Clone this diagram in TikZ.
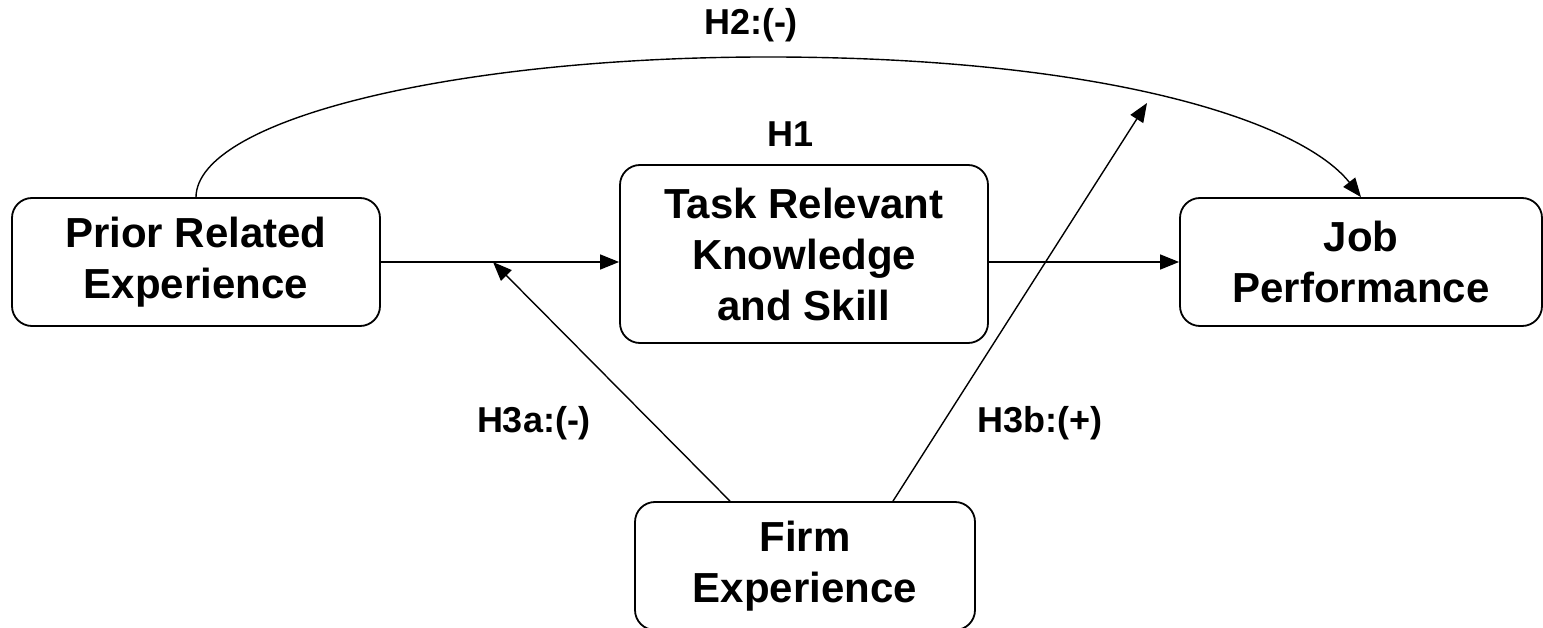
\documentclass[tikz,border=0pt]{standalone}
\usepackage{fontspec}
\setmainfont{Liberation Sans}
\usetikzlibrary{calc}
\usetikzlibrary{arrows.meta}
\tikzset{
	construct/.style={
			draw, line width=1.8pt, rounded corners=20pt, align=center,
			inner sep=0pt, font=\bfseries\fontsize{42}{51}\selectfont
		},
	hyp/.style={font=\bfseries\fontsize{36}{42}\selectfont},
	link/.style={line width=1.4pt, -{Triangle[length=19pt,width=15pt]}}
}

\begin{document}
\begin{tikzpicture}[x=1pt,y=-1pt]
		\useasboundingbox (0,0) rectangle (1543,628);
		
		\node[construct, minimum width=368, minimum height=128] (prior) at (196,262) {Prior Related\\Experience};
		\node[construct, minimum width=368, minimum height=178] (task) at (804,254) {Task Relevant\\Knowledge\\and Skill};
		\node[construct, minimum width=362, minimum height=128] (job) at (1361,262) {Job\\Performance};
		\node[construct, minimum width=340, minimum height=128] (firm) at (805,566) {Firm\\Experience};
		
		\coordinate (h3a) at (493,262);
		\coordinate (h3b) at (1147,103);
		\coordinate (top) at (760,57);
		
		\draw[link] (prior.east) -- (prior.east -| task.west);
		\draw[link] (task.east |- job.west) -- (job.west);
		\draw[link] (prior.north) .. controls (197,120) and (450,58) .. (top)
			.. controls (1100,56) and (1300,120) .. (job.north);
		\draw[link] ($(firm.north)+(-75,0)$) -- (h3a);
		\draw[link] ($(firm.north)+(88,0)$) -- (h3b);
		
		\node[hyp] (h2) at (751,25) {H2:(-)};
		\node[hyp] (h1) at (791,134) {H1};
		\node[hyp] (h3alabel) at (534,423) {H3a:(-)};
		\node[hyp] (h3blabel) at (1040,423) {H3b:(+)};
	\end{tikzpicture}
\end{document}
